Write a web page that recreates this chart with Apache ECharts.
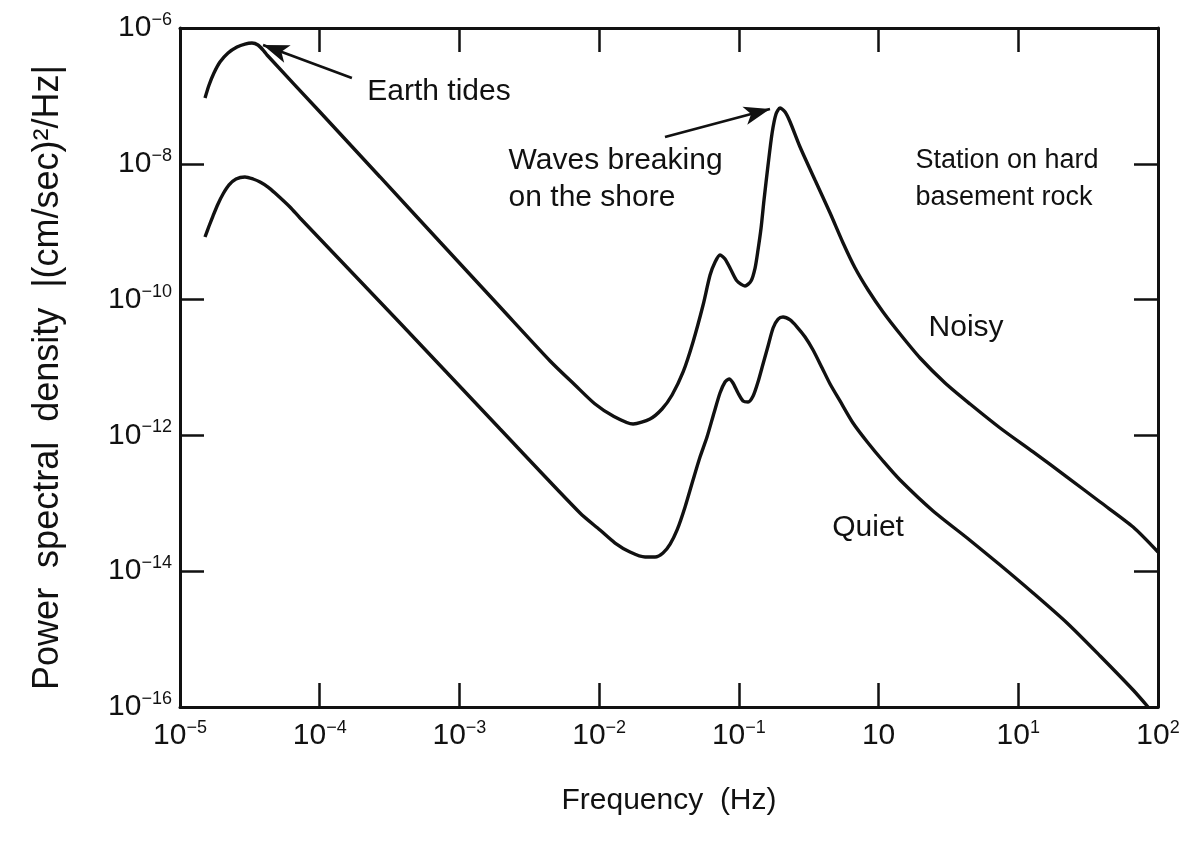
<!DOCTYPE html>
<html>
<head>
<meta charset="utf-8">
<script src="https://cdn.jsdelivr.net/npm/echarts@6/dist/echarts.min.js"></script>
<style>
  html, body { margin: 0; padding: 0; background: #fff; }
  #chart { width: 1198px; height: 851px; }
</style>
</head>
<body>
<div id="chart"></div>
<script>
// ---- Data, stored as base-10 exponents ----
// Noisy station: log10(frequency / Hz) and log10(PSD)
const noisyLogF = [-4.821, -4.792, -4.757, -4.714, -4.656, -4.592, -4.535, -4.485, -4.442, -4.399,
  -4.377, -3.998, -3.568, -3.139, -2.709, -2.351, -2.173, -2.029, -1.900, -1.757,
  -1.636, -1.550, -1.478, -1.399, -1.328, -1.256, -1.206, -1.170, -1.135, -1.099,
  -1.056, -1.013, -0.956, -0.913, -0.884, -0.863, -0.841, -0.820, -0.791, -0.762,
  -0.734, -0.705, -0.669, -0.633, -0.562, -0.455, -0.347, -0.254, -0.168, -0.075,
  0.032, 0.154, 0.297, 0.476, 0.655, 0.870, 1.106, 1.349, 1.586, 1.822, 2.0];
const noisyLogPSD = [-7.031, -6.839, -6.663, -6.501, -6.368, -6.280, -6.236, -6.221, -6.250, -6.339,
  -6.398, -7.237, -8.194, -9.152, -10.109, -10.904, -11.258, -11.538, -11.714, -11.832,
  -11.758, -11.611, -11.405, -11.066, -10.624, -10.080, -9.638, -9.446, -9.343, -9.402,
  -9.564, -9.726, -9.800, -9.726, -9.535, -9.270, -8.946, -8.533, -8.018, -7.546,
  -7.267, -7.178, -7.237, -7.384, -7.753, -8.239, -8.725, -9.166, -9.535, -9.859,
  -10.183, -10.507, -10.860, -11.228, -11.538, -11.891, -12.244, -12.613, -12.981, -13.349, -13.717];

// Quiet station
const quietLogF = [-4.821, -4.792, -4.764, -4.728, -4.692, -4.649, -4.599, -4.535, -4.477, -4.427,
  -4.370, -4.320, -4.213, -4.141, -3.425, -2.709, -2.137, -1.994, -1.886, -1.779,
  -1.671, -1.600, -1.543, -1.492, -1.442, -1.385, -1.328, -1.278, -1.228, -1.178,
  -1.135, -1.099, -1.070, -1.042, -1.006, -0.970, -0.934, -0.898, -0.863, -0.827,
  -0.791, -0.755, -0.719, -0.684, -0.633, -0.583, -0.526, -0.469, -0.404, -0.347,
  -0.276, -0.183, -0.075, 0.032, 0.154, 0.390, 0.634, 0.870, 1.106, 1.349,
  1.586, 1.822, 1.929];
const quietLogPSD = [-9.078, -8.916, -8.769, -8.592, -8.445, -8.312, -8.224, -8.194, -8.224, -8.268,
  -8.342, -8.430, -8.636, -8.798, -10.345, -11.906, -13.143, -13.393, -13.585, -13.717,
  -13.791, -13.791, -13.732, -13.600, -13.393, -13.054, -12.657, -12.318, -12.024, -11.670,
  -11.376, -11.214, -11.169, -11.228, -11.376, -11.493, -11.508, -11.420, -11.214, -10.948,
  -10.683, -10.418, -10.286, -10.256, -10.300, -10.404, -10.551, -10.742, -11.007, -11.243,
  -11.493, -11.817, -12.112, -12.377, -12.657, -13.113, -13.511, -13.909, -14.321, -14.763,
  -15.249, -15.750, -16.0];

// Axis ranges
const xMin = 1e-5, xMax = 1e2;
const yMin = 1e-16, yMax = 1e-6;

// Annotations (text and anchor in data coords)
const notes = [
  { name: 'Earth tides', coord: [7.14e-4, 1.14e-7], pos: 'inside', size: 30 },
  { name: 'Waves breaking\non the shore', coord: [2.23e-3, 6.0e-9], pos: 'right', size: 30 },
  { name: 'Station on hard\nbasement rock', coord: [1.82, 6.0e-9], pos: 'right', size: 27 },
  { name: 'Noisy', coord: [4.23, 3.82e-11], pos: 'inside', size: 30 },
  { name: 'Quiet', coord: [0.841, 4.33e-14], pos: 'inside', size: 30 }
];
// Arrows: [from, to] in data coords
const arrows = [
  [[1.70e-4, 1.84e-7], [3.93e-5, 5.62e-7]],
  [[2.96e-2, 2.48e-8], [1.67e-1, 6.41e-8]]
];

const FONT = '"Liberation Sans", Arial, Helvetica, sans-serif';
const INK = '#111';

function expLabel(v, zeroAsTen) {
  const e = Math.round(Math.log10(v));
  if (e === 0 && zeroAsTen) return '{b|10}';
  const s = e < 0 ? '\u2212' + (-e) : String(e);
  return '{b|10}{s|' + s + '}';
}
const rich = {
  b: { fontSize: 30, fontFamily: FONT, color: INK, lineHeight: 34 },
  s: { fontSize: 18, fontFamily: FONT, color: INK, verticalAlign: 'top', lineHeight: 18 }
};

const toPairs = (lx, ly) => lx.map((x, i) => [Math.pow(10, x), Math.pow(10, ly[i])]);

const chart = echarts.init(document.getElementById('chart'), null, { renderer: 'canvas' });
const axisLine = { show: true, onZero: false, lineStyle: { color: INK, width: 3 } };
const tick = { show: true, inside: true, length: 24, lineStyle: { color: INK, width: 2.5 } };

chart.setOption({
  animation: false,
  backgroundColor: '#fff',
  textStyle: { fontFamily: FONT, color: INK },
  grid: { left: 180, right: 40, top: 28, bottom: 144, containLabel: false },
  xAxis: [
    {
      type: 'log', min: xMin, max: xMax, logBase: 10, interval: 1, position: 'bottom',
      axisLine, axisTick: tick, splitLine: { show: false }, minorTick: { show: false },
      axisLabel: { margin: 12, formatter: v => expLabel(v, true), rich },
      name: 'Frequency  (Hz)', nameLocation: 'middle', nameGap: 79,
      nameTextStyle: { fontSize: 30, fontFamily: FONT, color: INK }
    },
    {
      type: 'log', min: xMin, max: xMax, logBase: 10, interval: 1, position: 'top',
      axisLine, axisTick: tick, splitLine: { show: false }, axisLabel: { show: false }
    }
  ],
  yAxis: [
    {
      type: 'log', min: yMin, max: yMax, logBase: 10, interval: 2, position: 'left',
      axisLine, axisTick: tick, splitLine: { show: false },
      axisLabel: { margin: 8, formatter: v => expLabel(v, false), rich },
      name: 'Power  spectral  density  |(cm/sec)\u00B2/Hz|', nameLocation: 'middle', nameGap: 114,
      nameTextStyle: { fontSize: 36, fontFamily: FONT, color: INK, padding: [0, 20, 0, 0] }
    },
    {
      type: 'log', min: yMin, max: yMax, logBase: 10, interval: 2, position: 'right',
      axisLine, axisTick: tick, splitLine: { show: false }, axisLabel: { show: false }
    }
  ],
  series: [
    {
      name: 'Noisy', type: 'line', xAxisIndex: 0, yAxisIndex: 0,
      data: toPairs(noisyLogF, noisyLogPSD), smooth: 0.25, showSymbol: false, symbol: 'none',
      lineStyle: { color: INK, width: 3.4 }, silent: true,
      markLine: {
        silent: true, symbol: ['none', 'arrow'], symbolSize: 20,
        label: { show: false },
        lineStyle: { color: INK, width: 2.6, type: 'solid' },
        emphasis: { disabled: true },
        data: arrows.map(a => [
          { coord: a[0], symbol: 'none' },
          { coord: a[1], symbol: 'arrow', symbolSize: [14, 26] }
        ])
      },
      markPoint: {
        silent: true, symbol: 'circle', symbolSize: 1,
        itemStyle: { color: 'rgba(0,0,0,0)' },
        data: notes.map(n => ({
          name: n.name, coord: n.coord,
          label: {
            show: true, position: n.pos, distance: 0, formatter: p => p.name,
            fontSize: n.size, lineHeight: 37, fontFamily: FONT, color: INK,
            align: n.pos === 'right' ? 'left' : 'center'
          }
        }))
      }
    },
    {
      name: 'Quiet', type: 'line', xAxisIndex: 0, yAxisIndex: 0,
      data: toPairs(quietLogF, quietLogPSD), smooth: 0.25, showSymbol: false, symbol: 'none',
      lineStyle: { color: INK, width: 3.4 }, silent: true
    }
  ]
});
</script>
</body>
</html>
